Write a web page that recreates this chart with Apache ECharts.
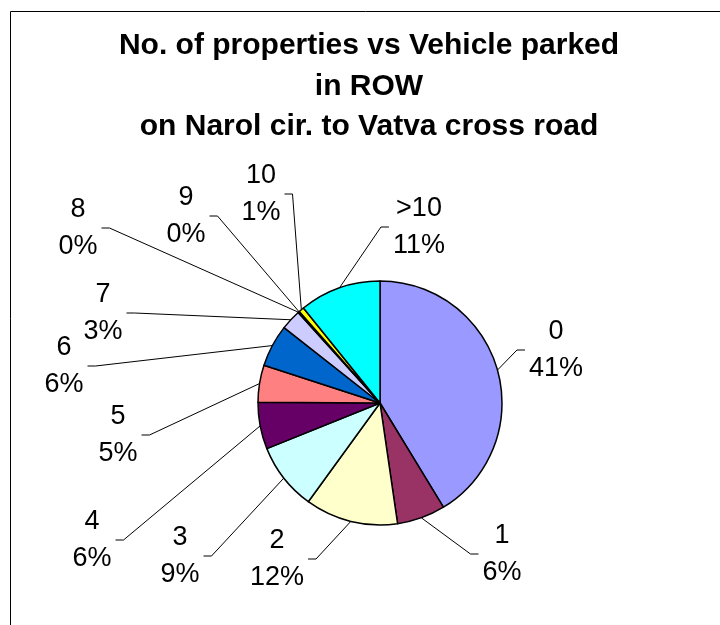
<!DOCTYPE html>
<html>
<head>
<meta charset="utf-8">
<script src="https://cdn.jsdelivr.net/npm/echarts@6/dist/echarts.min.js"></script>
<style>
html,body{margin:0;padding:0;background:#fff;}
#chart{width:720px;height:625px;}
</style>
</head>
<body>
<div id="chart"></div>
<script>
// ---- data ----
const categories = ['0', '1', '2', '3', '4', '5', '6', '7', '8', '9', '10', '>10'];
const shares = [41.3, 6.4, 12.3, 8.9, 6.2, 4.9, 5.6, 2.7, 0.1, 0.1, 0.7, 10.8];
const titleLines = ['No. of properties vs Vehicle parked', 'in ROW', 'on Narol cir. to Vatva cross road'];

// ---- style / layout ----
const colors = ['#9999FF', '#993366', '#FFFFCC', '#CCFFFF', '#660066', '#FF8080',
                '#0066CC', '#CCCCFF', '#000080', '#FF00FF', '#FFFF00', '#00FFFF'];
const labelPos = [[556, 350], [502, 554], [277, 559], [180, 556], [92, 540], [118, 435],
                  [64, 366], [103, 313], [78, 228], [186, 216], [261, 194], [419, 227]];
const pieCenter = [380, 403];
const pieRadius = 122;
const FONT = '"Liberation Sans", Arial, sans-serif';

const total = shares.reduce((a, b) => a + b, 0);

const chart = echarts.init(document.getElementById('chart'), null, {renderer: 'canvas'});

const titleY = [46, 87, 127];
const graphics = [{
  type: 'rect', silent: true,
  shape: {x: 10.5, y: 11.5, width: 900, height: 900},
  style: {fill: 'none', stroke: '#000', lineWidth: 1}
}];
titleLines.forEach((t, i) => graphics.push({
  type: 'text', silent: true, x: 369, y: titleY[i],
  style: {text: t, fill: '#000', font: 'bold 30px ' + FONT, textAlign: 'center', textVerticalAlign: 'middle'}
}));

chart.setOption({
  animation: false,
  backgroundColor: '#fff',
  graphic: graphics,
  series: [{
    type: 'pie',
    center: pieCenter,
    radius: pieRadius,
    startAngle: 90,
    clockwise: true,
    avoidLabelOverlap: false,
    data: categories.map((c, i) => ({name: c, value: shares[i], itemStyle: {color: colors[i]}})),
    itemStyle: {borderColor: '#000', borderWidth: 1.5},
    label: {
      show: true,
      position: 'outside',
      formatter: p => p.name + '\n' + Math.round(p.value / total * 100) + '%',
      color: '#000',
      fontFamily: FONT,
      fontSize: 27,
      lineHeight: 37,
      align: 'center'
    },
    labelLine: {show: true, length: 10, length2: 10, lineStyle: {color: '#000', width: 1}},
    labelLayout: function (params) {
      const i = params.dataIndex;
      const pos = labelPos[i];
      const w = params.labelRect.width;
      const start = params.labelLinePoints ? params.labelLinePoints[0] : pos;
      const rightSide = pos[0] > pieCenter[0];
      const endX = rightSide ? pos[0] - w / 2 - 4 : pos[0] + w / 2 + 4;
      const elbowX = rightSide ? endX - 8 : endX + 8;
      return {
        x: pos[0], y: pos[1], align: 'center', verticalAlign: 'middle',
        labelLinePoints: [start, [elbowX, pos[1]], [endX, pos[1]]]
      };
    },
    emphasis: {disabled: true}
  }]
});
</script>
</body>
</html>
